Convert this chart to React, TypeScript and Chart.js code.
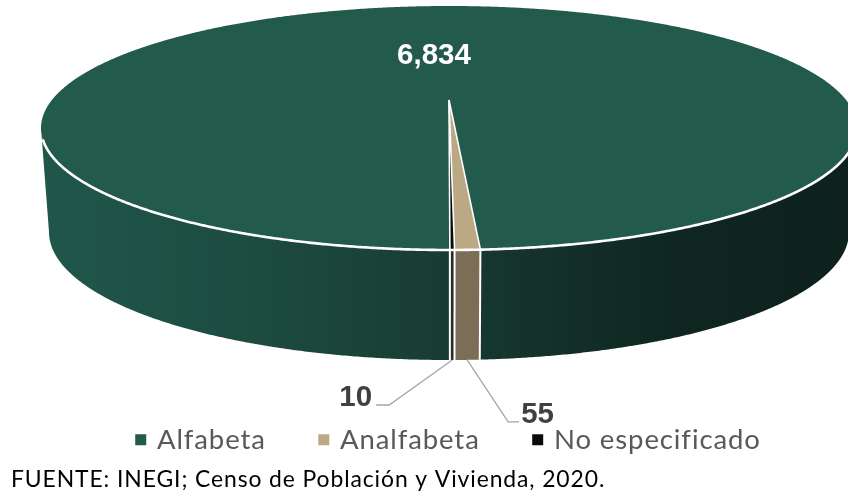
import React, { useEffect, useRef } from "react";
import { Chart, registerables } from "chart.js";

Chart.register(...registerables);

const categories = ["Alfabeta", "Analfabeta", "No especificado"];
const values = [6834, 55, 10];
const colors = ["#225a4c", "#bba884", "#0a0a0a"];
const wallColors = [null, "#7b6d56", "#2b2b2b"];
const footer = "FUENTE: INEGI; Censo de Población y Vivienda, 2020.";

// Projection of the disc on to the page (a perspective view of a cylinder)
const TOP = { cx: 449, cy: 128, rx: 408, ry: 122 };
const BOTTOM = { cx: 449, cy: 232, rx: 400, ry: 128 };
const TILT = -0.23;
const TEXT_TRACKING = "0.9px";

function unit(angle: number) {
  const x = Math.cos(angle);
  const y = Math.sin(angle);
  const d = 1 + TILT * y;
  return { x: (x * Math.sqrt(1 - TILT * TILT)) / d, y: (y + TILT) / d };
}
function project(angle: number, e: typeof TOP) {
  const u = unit(angle);
  return { x: e.cx + e.rx * u.x, y: e.cy + e.ry * u.y };
}
function apex() {
  return { x: TOP.cx, y: TOP.cy + TOP.ry * TILT };
}
function samples(a0: number, a1: number) {
  const n = Math.max(2, Math.ceil(Math.abs(a1 - a0) / 0.005));
  const out: number[] = [];
  for (let i = 0; i <= n; i++) out.push(a0 + ((a1 - a0) * i) / n);
  return out;
}
function visibleRuns(a0: number, a1: number, threshold: number) {
  const runs: number[][] = [];
  let cur: number[] | null = null;
  for (const a of samples(a0, a1)) {
    if (unit(a).y >= threshold) {
      if (!cur) {
        cur = [];
        runs.push(cur);
      }
      cur.push(a);
    } else cur = null;
  }
  return runs;
}

const tracking = {
  id: "tracking",
  beforeLayout(chart: any) {
    chart.ctx.letterSpacing = TEXT_TRACKING;
  },
  beforeDraw(chart: any) {
    chart.ctx.letterSpacing = TEXT_TRACKING;
  },
};

const pie3d = {
  id: "pie3d",
  beforeDatasetDraw(chart: any) {
    const ctx = chart.ctx as any;
    const arcs = chart.getDatasetMeta(0).data as any[];
    const grad = ctx.createLinearGradient(41, 0, 857, 0);
    grad.addColorStop(0, "#20574a");
    grad.addColorStop(0.25, "#1d4c41");
    grad.addColorStop(0.48, "#183d34");
    grad.addColorStop(0.6, "#14322b");
    grad.addColorStop(0.78, "#0f2620");
    grad.addColorStop(1, "#0e211c");

    ctx.save();
    ctx.letterSpacing = "0px";
    // side wall
    arcs.forEach((arc, i) => {
      ctx.fillStyle = wallColors[i] ?? grad;
      for (const run of visibleRuns(arc.startAngle, arc.endAngle, 0)) {
        ctx.beginPath();
        run.forEach((a, k) => {
          const p = project(a, TOP);
          k ? ctx.lineTo(p.x, p.y) : ctx.moveTo(p.x, p.y);
        });
        [...run].reverse().forEach((a) => {
          const p = project(a, BOTTOM);
          ctx.lineTo(p.x, p.y);
        });
        ctx.closePath();
        ctx.fill();
      }
    });
    // vertical seams
    ctx.strokeStyle = "#ffffff";
    ctx.lineWidth = 2;
    arcs.forEach((arc) => {
      const t = project(arc.startAngle, TOP);
      const b = project(arc.startAngle, BOTTOM);
      ctx.beginPath();
      ctx.moveTo(t.x, t.y);
      ctx.lineTo(b.x, b.y);
      ctx.stroke();
    });
    // top face
    const c = apex();
    arcs.forEach((arc, i) => {
      ctx.fillStyle = colors[i];
      ctx.beginPath();
      ctx.moveTo(c.x, c.y);
      samples(arc.startAngle, arc.endAngle).forEach((a) => {
        const p = project(a, TOP);
        ctx.lineTo(p.x, p.y);
      });
      ctx.closePath();
      ctx.fill();
    });
    // radial edges
    ctx.lineWidth = 1.6;
    arcs.forEach((arc) => {
      const p = project(arc.startAngle, TOP);
      ctx.beginPath();
      ctx.moveTo(c.x, c.y);
      ctx.lineTo(p.x, p.y);
      ctx.stroke();
    });
    // front rim
    ctx.lineWidth = 2.6;
    arcs.forEach((arc) => {
      for (const run of visibleRuns(arc.startAngle, arc.endAngle, 0.09)) {
        ctx.beginPath();
        run.forEach((a, k) => {
          const p = project(a, TOP);
          k ? ctx.lineTo(p.x, p.y) : ctx.moveTo(p.x, p.y);
        });
        ctx.stroke();
      }
    });

    // value labels
    const mid = (arc: any) => (arc.startAngle + arc.endAngle) / 2;
    const fmt = (v: number) => v.toLocaleString("en-US");
    ctx.font = "bold 29.5px 'Liberation Sans'";
    ctx.textBaseline = "alphabetic";
    ctx.textAlign = "center";
    ctx.fillStyle = "#ffffff";
    ctx.fillText(fmt(values[0]), c.x - 15, c.y - 36);

    const leader = (i: number, dx1: number, dy1: number, dx2: number) => {
      const s = project(mid(arcs[i]), BOTTOM);
      const kx = s.x + dx1;
      const ky = s.y + dy1;
      ctx.strokeStyle = "#a6a6a6";
      ctx.lineWidth = 1.3;
      ctx.beginPath();
      ctx.moveTo(s.x, s.y);
      ctx.lineTo(kx, ky);
      ctx.lineTo(kx + dx2, ky);
      ctx.stroke();
      return { x: kx + dx2, y: ky };
    };
    ctx.fillStyle = "#404040";
    const p55 = leader(1, 41, 62, 11);
    ctx.textAlign = "left";
    ctx.fillText(fmt(values[1]), p55.x + 2, p55.y + 1);
    const p10 = leader(2, -63, 45, -13);
    ctx.textAlign = "right";
    ctx.fillText(fmt(values[2]), p10.x - 4, p10.y + 1);
    ctx.restore();
    return false;
  },
};

export default function App() {
  const ref = useRef<HTMLCanvasElement>(null);
  useEffect(() => {
    const chart = new Chart(ref.current as HTMLCanvasElement, {
      type: "pie",
      data: {
        labels: categories,
        datasets: [{ data: values, backgroundColor: colors, borderColor: colors, borderWidth: 6 }],
      },
      options: {
        animation: false,
        responsive: false,
        rotation: 179.9,
        layout: { padding: { left: 11, right: -40, top: 0, bottom: 0 } },
        plugins: {
          tooltip: { enabled: false },
          legend: {
            position: "bottom",
            labels: {
              boxWidth: 5,
              boxHeight: 5,
              padding: 55.5,
              color: "#595959",
              font: { family: "Lato", size: 27.5 },
            },
          },
          title: {
            display: true,
            text: footer,
            position: "bottom",
            align: "start",
            color: "#000000",
            font: { family: "Lato", size: 22.9, weight: "normal" },
            padding: { top: 2, bottom: 2 },
          },
        },
      },
      plugins: [tracking, pie3d],
    } as any);
    return () => chart.destroy();
  }, []);
  return (
    <canvas
      ref={ref}
      width={848}
      height={495}
      style={{ position: "absolute", left: 0, top: 0, display: "block" }}
    />
  );
}
